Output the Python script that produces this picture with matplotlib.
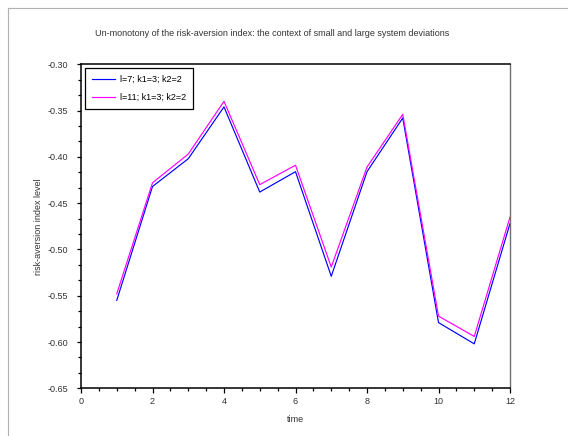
import numpy as np
import matplotlib.pyplot as plt
from matplotlib.lines import Line2D
from matplotlib.ticker import MultipleLocator, FormatStrFormatter

plt.rcParams['font.family'] = ['Liberation Sans', 'DejaVu Sans']

# risk-aversion index over time for two system sizes
time = [1, 2, 3, 4, 5, 6, 7, 8, 9, 10, 11, 12]
idx_l7 = [-0.555, -0.432, -0.402, -0.346, -0.438, -0.416, -0.529,
          -0.416, -0.358, -0.579, -0.602, -0.472]
idx_l11 = [-0.548, -0.428, -0.397, -0.340, -0.430, -0.409, -0.519,
           -0.411, -0.354, -0.572, -0.594, -0.465]

fig = plt.figure(figsize=(5.68, 4.36), dpi=100)
fig.patch.set_facecolor('white')

# window frame lines (top and left)
fig.add_artist(Line2D([8/568, 8/568], [0, 1 - 8/436], color='#b0b0b0', lw=0.8))
fig.add_artist(Line2D([8/568, 1], [1 - 8/436, 1 - 8/436], color='#b0b0b0', lw=0.8))

ax = fig.add_axes([81/568, 1 - 388.3/436, (510 - 81)/568, (388.3 - 64.3)/436])

ax.plot(time, idx_l7, color='#0000ff', lw=0.85, label='l=7; k1=3; k2=2')
ax.plot(time, idx_l11, color='#ff00ff', lw=0.85, label='l=11; k1=3; k2=2')

ax.set_xlim(0, 12)
ax.set_ylim(-0.65, -0.30)
ax.xaxis.set_major_locator(MultipleLocator(2))
ax.xaxis.set_minor_locator(MultipleLocator(0.5))
ax.yaxis.set_major_locator(MultipleLocator(0.05))
ax.yaxis.set_minor_locator(MultipleLocator(0.05 / 3))
ax.yaxis.set_major_formatter(FormatStrFormatter('%.2f'))

ax.tick_params(which='both', width=0.9, labelsize=6.5,
               colors='black', labelcolor='#333333')
ax.tick_params(axis='y', which='major', length=3, pad=6.5)
ax.tick_params(axis='y', which='minor', length=2.2)
ax.tick_params(axis='x', which='major', length=3.6, pad=2.5)
ax.tick_params(axis='x', which='minor', length=2.2)

for side in ['left', 'bottom', 'top']:
    ax.spines[side].set_color('black')
    ax.spines[side].set_linewidth(1.1)
ax.spines['right'].set_color('#707070')
ax.spines['right'].set_linewidth(1.0)

ax.set_xlabel('time', fontsize=6.5, color='#333333', labelpad=7)
ax.set_ylabel('risk-aversion index level', fontsize=6.5, color='#333333', labelpad=3)

fig.text(272/568, 1 - 34/436,
         'Un-monotony of the risk-aversion index: the context of small and large system deviations',
         fontsize=6.5, color='#333333', ha='center', va='center')

leg = ax.legend(loc='upper left', fontsize=6.5, frameon=True, fancybox=False,
                edgecolor='black', borderpad=0.75, handlelength=2.6,
                handletextpad=0.5, labelspacing=1.0, borderaxespad=0.45)
leg.get_frame().set_linewidth(0.9)
leg.get_frame().set_alpha(1)

fig.savefig('out.png', dpi=100, facecolor='white')
